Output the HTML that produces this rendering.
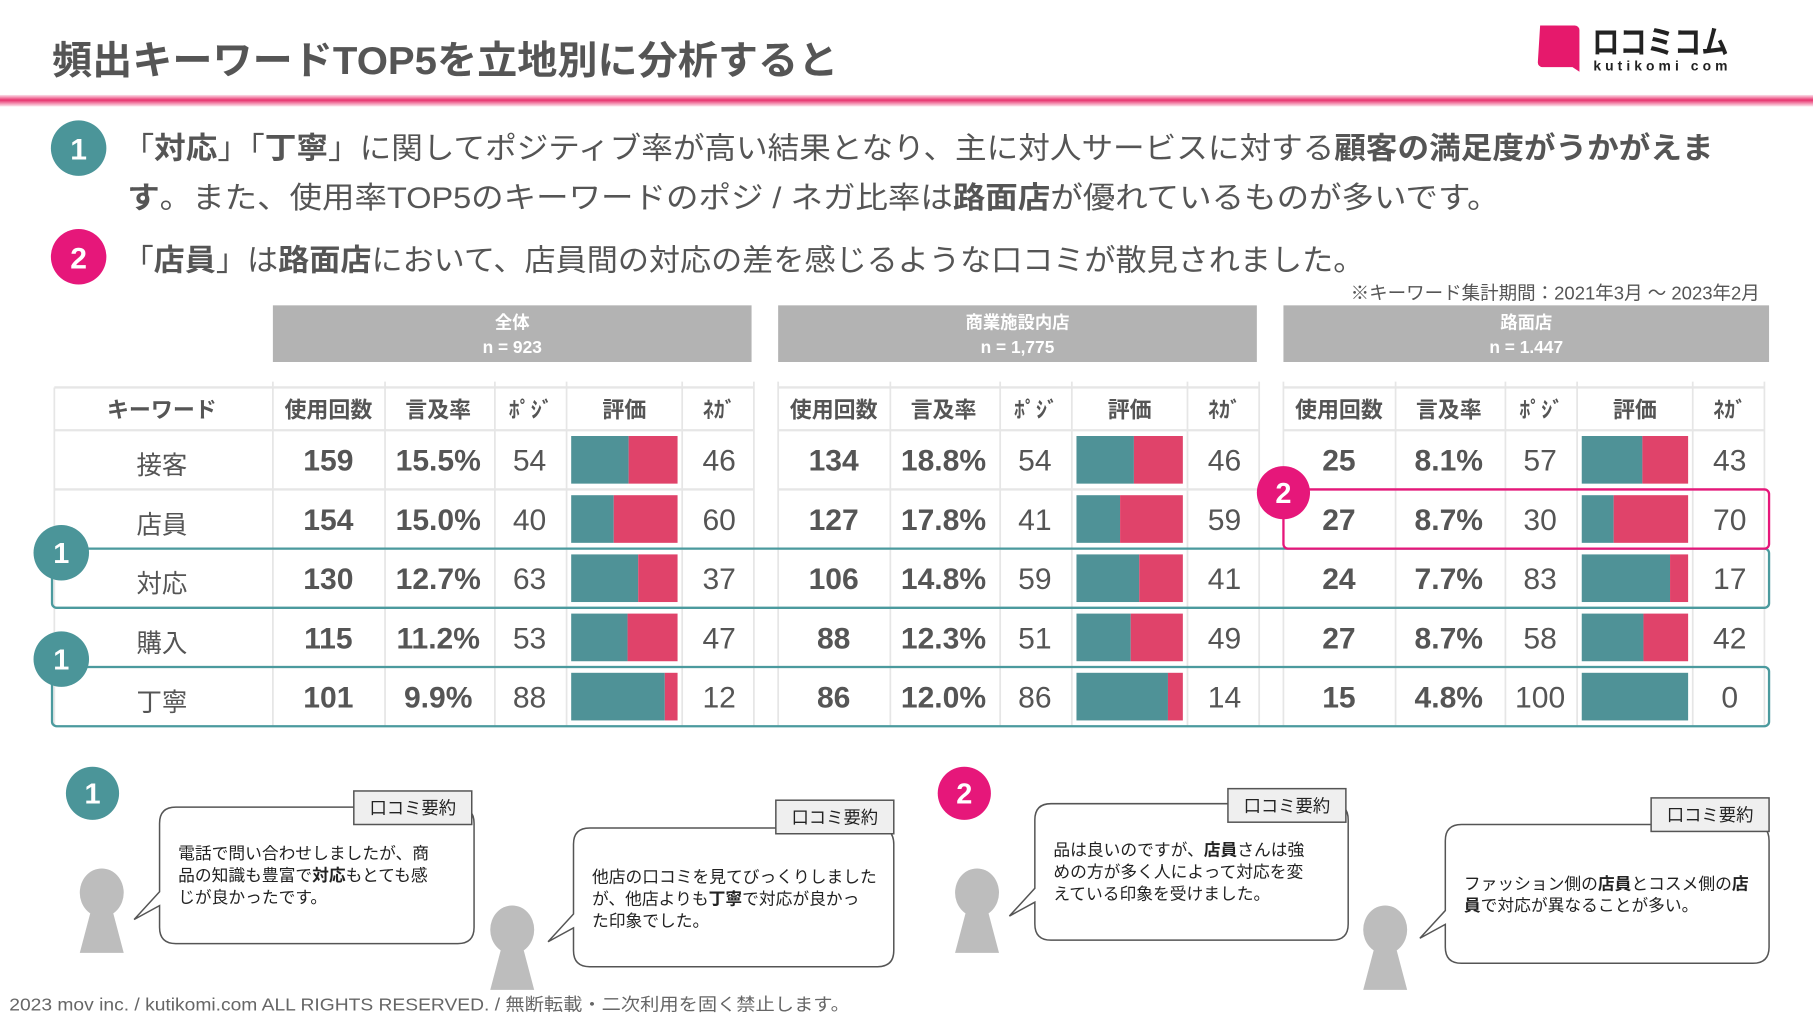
<!DOCTYPE html>
<html lang="ja"><head><meta charset="utf-8">
<style>
html,body{margin:0;padding:0;background:#fff;width:1813px;height:1020px;overflow:hidden}
svg{display:block}
text{font-family:"Liberation Sans","Noto Sans CJK JP",sans-serif}
</style></head>
<body>
<svg id="page" width="1813" height="1020" viewBox="0 0 1568 882" xmlns="http://www.w3.org/2000/svg">
<defs>
<linearGradient id="pl" x1="0" y1="0" x2="0" y2="1">
<stop offset="0" stop-color="#fbe0ea"/><stop offset="0.45" stop-color="#e8336e"/><stop offset="1" stop-color="#fde6ee"/>
</linearGradient>
</defs>
<text x="45" y="64" font-size="34" font-weight="bold" fill="#555" textLength="680" lengthAdjust="spacingAndGlyphs">頻出キーワードTOP5を立地別に分析すると</text>
<g>
<path d="M1332 22 h30 a4 4 0 0 1 4 4 v36 l-6 -4 h-26 a4 4 0 0 1 -4 -4 z" fill="#e6196c"/>
<text x="1377" y="46" font-size="28" font-weight="bold" fill="#222" textLength="118" lengthAdjust="spacingAndGlyphs">ロコミコム</text>
<text x="1378" y="61" font-size="12" font-weight="bold" fill="#222" textLength="116" lengthAdjust="spacing">kutikomi com</text>
</g>
<rect x="0" y="82" width="1568" height="10" fill="url(#pl)"/>

<g>
<circle cx="68" cy="128" r="24" fill="#4b9599"/><text x="68" y="138" font-size="26" font-weight="bold" fill="#fff" text-anchor="middle">1</text>
<text x="106" y="137" font-size="26" fill="#555" textLength="1376" lengthAdjust="spacingAndGlyphs">「<tspan font-weight="bold">対応</tspan>」「<tspan font-weight="bold">丁寧</tspan>」に関してポジティブ率が高い結果となり、主に対人サービスに対する<tspan font-weight="bold">顧客の満足度がうかがえま</tspan></text>
<text x="110" y="180" font-size="26" fill="#555" textLength="1187" lengthAdjust="spacingAndGlyphs"><tspan font-weight="bold">す</tspan>。また、使用率TOP5のキーワードのポジ / ネガ比率は<tspan font-weight="bold">路面店</tspan>が優れているものが多いです。</text>
</g>
<g>
<circle cx="68" cy="222" r="24" fill="#e6177a"/><text x="68" y="232" font-size="26" font-weight="bold" fill="#fff" text-anchor="middle">2</text>
<text x="106" y="234" font-size="26" fill="#555" textLength="1074" lengthAdjust="spacingAndGlyphs">「<tspan font-weight="bold">店員</tspan>」は<tspan font-weight="bold">路面店</tspan>において、店員間の対応の差を感じるような口コミが散見されました。</text>
</g>
<text x="1522" y="259" font-size="16" fill="#555" text-anchor="end">※キーワード集計期間：2021年3月 ～ 2023年2月</text>

<g id="table"></g>
<g id="marks"></g>

<g id="comments"></g>

<text x="8" y="874" font-size="15" fill="#666" textLength="727" lengthAdjust="spacingAndGlyphs">2023 mov inc. / kutikomi.com ALL RIGHTS RESERVED. / 無断転載・二次利用を固く禁止します。</text>
</svg>
<script>
const keywords = ['接客','店員','対応','購入','丁寧'];
const groupNames = ['全体','商業施設内店','路面店'];
const groupN = ['n = 923','n = 1,775','n = 1.447'];
const countsAll = [159,154,130,115,101];
const rateAll = ['15.5%','15.0%','12.7%','11.2%','9.9%'];
const posAll = [54,40,63,53,88];
const negAll = [46,60,37,47,12];
const countsMall = [134,127,106,88,86];
const rateMall = ['18.8%','17.8%','14.8%','12.3%','12.0%'];
const posMall = [54,41,59,51,86];
const negMall = [46,59,41,49,14];
const countsStreet = [25,27,24,27,15];
const rateStreet = ['8.1%','8.7%','7.7%','8.7%','4.8%'];
const posStreet = [57,30,83,58,100];
const negStreet = [43,70,17,42,0];

const NS='http://www.w3.org/2000/svg';
function mk(tag,attrs,parent,txt){const e=document.createElementNS(NS,tag);for(const k in attrs)e.setAttribute(k,attrs[k]);if(txt!==undefined)e.textContent=txt;parent.appendChild(e);return e;}
const T=document.getElementById('table');
const groupX=[236,673,1110];
const rowTop=y=>372+y*51.2;
const rowH=51.2;
const groups=[[countsAll,rateAll,posAll,negAll],[countsMall,rateMall,posMall,negMall],[countsStreet,rateStreet,posStreet,negStreet]];
const barX=p=>p*0.92;

mk('line',{x1:47,y1:335,x2:236,y2:335,stroke:'#e6e6e6','stroke-width':2},T);
let h=mk('text',{x:140,y:361,'font-size':19,'font-weight':'bold',fill:'#555','text-anchor':'middle'},T,'キーワード');


keywords.forEach((k,i)=>{
  mk('line',{x1:47,y1:rowTop(i),x2:236,y2:rowTop(i),stroke:'#e6e6e6','stroke-width':2},T);
  const t=mk('text',{x:140,y:rowTop(i)+38,'font-size':22,fill:'#555','text-anchor':'middle'},T,k);
  
  
});
mk('line',{x1:47,y1:335,x2:47,y2:628,stroke:'#e6e6e6','stroke-width':1.5},T);

groups.forEach((g,gi)=>{
  const x0=groupX[gi];
  const w=gi==2?420:414;
  const hd=mk('g',{},T);
  
  
  mk('rect',{x:x0,y:264,width:w,height:49,fill:'#b3b3b3'},hd);
  mk('text',{x:x0+w/2,y:284,'font-size':15,'font-weight':'bold',fill:'#fff','text-anchor':'middle'},hd,groupNames[gi]);
  mk('text',{x:x0+w/2,y:305,'font-size':15,'font-weight':'bold',fill:'#fff','text-anchor':'middle'},hd,groupN[gi]);
  const bounds=[0,97,192,254,354,416];
  bounds.forEach(b=>mk('line',{x1:x0+b,y1:330,x2:x0+b,y2:628,stroke:'#e6e6e6','stroke-width':1.5},T));
  mk('line',{x1:x0,y1:335,x2:x0+416,y2:335,stroke:'#e6e6e6','stroke-width':2},T);
  const heads=[['使用回数',48],['言及率',143],['ﾎﾟｼﾞ',223],['評価',304],['ﾈｶﾞ',386]];
  heads.forEach(([s,c])=>mk('text',{x:x0+c,y:361,'font-size':19,'font-weight':'bold',fill:'#555','text-anchor':'middle'},T,s));
  keywords.forEach((k,i)=>{
    const y=rowTop(i);
    mk('line',{x1:x0,y1:y,x2:x0+416,y2:y,stroke:'#e6e6e6','stroke-width':2},T);
    const cy=y+35;
    let e=mk('text',{x:x0+48,y:cy,'font-size':26,'font-weight':'bold',fill:'#555','text-anchor':'middle'},T,g[0][i]);
    
    
    e=mk('text',{x:x0+143,y:cy,'font-size':26,'font-weight':'bold',fill:'#555','text-anchor':'middle'},T,g[1][i]);
    
    
    e=mk('text',{x:x0+222,y:cy,'font-size':26,fill:'#555','text-anchor':'middle'},T,g[2][i]);
    
    
    e=mk('text',{x:x0+386,y:cy,'font-size':26,fill:'#555','text-anchor':'middle'},T,g[3][i]);
    
    
    const tot=g[2][i]+g[3][i];
    const pw=barX(g[2][i]/tot*100);
    const b1=mk('rect',{x:x0+258,y:y+5,width:pw,height:rowH-10,fill:'#4f9297'},T);
    
    
    const b2=mk('rect',{x:x0+258+pw,y:y+5,width:92-pw,height:rowH-10,fill:'#e0436a'},T);
    
    
  });
});

const M=document.getElementById('marks');
function badge(cx,cy,r,col,n,name){
  const g=mk('g',{},M);
  
  
  mk('circle',{cx:cx,cy:cy,r:r,fill:col},g);
  mk('text',{x:cx,y:cy+9,'font-size':25,'font-weight':'bold',fill:'#fff','text-anchor':'middle'},g,n);
}
let r1=mk('rect',{x:45,y:rowTop(2),width:1485,height:rowH,rx:4,fill:'none',stroke:'#4b9a9e','stroke-width':2},M);


let r2=mk('rect',{x:45,y:rowTop(4),width:1485,height:rowH,rx:4,fill:'none',stroke:'#4b9a9e','stroke-width':2},M);


let r3=mk('rect',{x:1110,y:rowTop(1),width:420,height:rowH,rx:4,fill:'none',stroke:'#e6177a','stroke-width':2},M);


badge(53,478,24,'#4b9599','1','badge-taiou');
badge(53,570,24,'#4b9599','1','badge-teinei');
badge(1110,426,23,'#e6177a','2','badge-tenin');

const C=document.getElementById('comments');
badge(80,686,23,'#4b9599','1','comment-badge-1');
badge(834,686,23,'#e6177a','2','comment-badge-2');
function person(cx,top,name){
  const g=mk('g',{},C);
  
  
  mk('ellipse',{cx:cx,cy:top+20,rx:19,ry:21,fill:'#bdbdbd'},g);
  mk('path',{d:`M${cx-10} ${top+38} L${cx+10} ${top+38} L${cx+19} ${top+72} L${cx-19} ${top+72} Z`,fill:'#bdbdbd'},g);
}
function bubble(x,y,w,h,tx,ty,lines,off,name){
  const g=mk('g',{},C);
  
  
  const ty0=y+h*0.62;
  mk('path',{d:`M${x+14} ${y} H${x+w-14} Q${x+w} ${y} ${x+w} ${y+14} V${y+h-14} Q${x+w} ${y+h} ${x+w-14} ${y+h} H${x+14} Q${x} ${y+h} ${x} ${y+h-14} V${ty0+12} L${x-22} ${ty0+24} L${x} ${ty0} V${y+14} Q${x} ${y} ${x+14} ${y} Z`,fill:'#fff',stroke:'#555','stroke-width':1.3},g);
  const tg=mk('rect',{x:tx,y:ty,width:102,height:29,fill:'#efefef',stroke:'#555','stroke-width':1.3},g);
  
  
  mk('text',{x:tx+51,y:ty+20,'font-size':15,fill:'#222','text-anchor':'middle'},g,'口コミ要約');
  lines.forEach((l,i)=>{
    const t=mk('text',{x:x+16,y:y+off+i*19,'font-size':14.5,fill:'#222'},g);
    t.innerHTML=l;
  });
}
person(88,752,'person-icon-1');
person(443,784,'person-icon-2');
person(845,752,'person-icon-3');
person(1198,784,'person-icon-4');
bubble(138,698,272,118,306,684,['電話で問い合わせしましたが、商','品の知識も豊富で<tspan font-weight="bold">対応</tspan>もとても感','じが良かったです。'],45,'comment-bubble-1');
bubble(496,716,277,120,671,692,['他店の口コミを見てびっくりしました','が、他店よりも<tspan font-weight="bold">丁寧</tspan>で対応が良かっ','た印象でした。'],47,'comment-bubble-2');
bubble(895,695,271,118,1062,682,['品は良いのですが、<tspan font-weight="bold">店員</tspan>さんは強','めの方が多く人によって対応を変','えている印象を受けました。'],45,'comment-bubble-3');
bubble(1250,713,280,120,1428,690,['ファッション側の<tspan font-weight="bold">店員</tspan>とコスメ側の<tspan font-weight="bold">店</tspan>','<tspan font-weight="bold">員</tspan>で対応が異なることが多い。'],56,'comment-bubble-4');
</script>
</body></html>
